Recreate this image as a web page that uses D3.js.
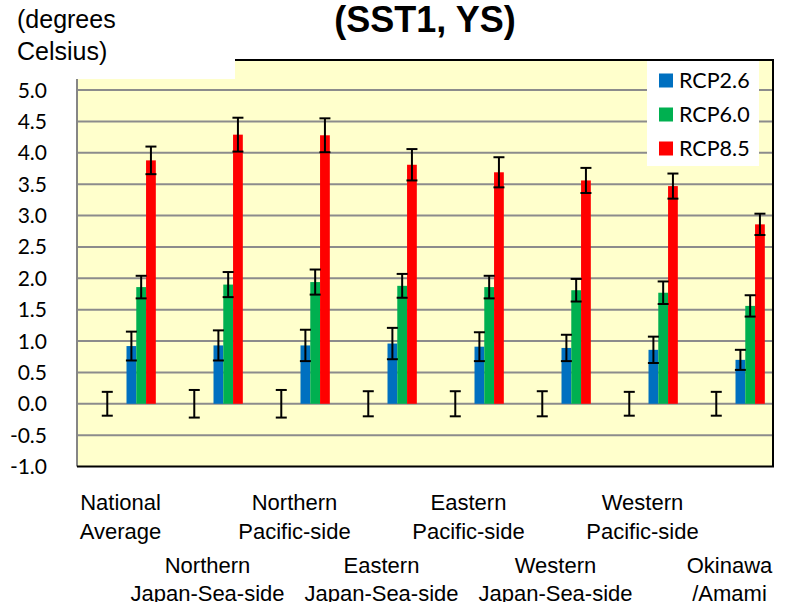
<!DOCTYPE html>
<html>
<head>
<meta charset="utf-8">
<script src="https://cdn.jsdelivr.net/npm/d3@7"></script>
<style>
  html, body { margin: 0; padding: 0; background: #ffffff; }
  svg { display: block; }
</style>
</head>
<body>
<svg id="chart" width="792" height="602"></svg>
<script>
// ---- data ----
const categories = ["National Average", "Northern Japan-Sea-side", "Northern Pacific-side",
  "Eastern Japan-Sea-side", "Eastern Pacific-side", "Western Japan-Sea-side",
  "Western Pacific-side", "Okinawa /Amami"];
const categoryLines = [["National", "Average"], ["Northern", "Japan-Sea-side"], ["Northern", "Pacific-side"],
  ["Eastern", "Japan-Sea-side"], ["Eastern", "Pacific-side"], ["Western", "Japan-Sea-side"],
  ["Western", "Pacific-side"], ["Okinawa", "/Amami"]];
const seriesNames = ["RCP2.6", "RCP6.0", "RCP8.5"];
const presentValues = [0, 0, 0, 0, 0, 0, 0, 0];
const presentErr = [0.19, 0.22, 0.22, 0.20, 0.20, 0.20, 0.19, 0.19];
const rcp26 = [0.92, 0.93, 0.93, 0.96, 0.91, 0.89, 0.86, 0.70];
const rcp26Err = [0.23, 0.24, 0.25, 0.25, 0.23, 0.21, 0.21, 0.16];
const rcp60 = [1.86, 1.90, 1.94, 1.88, 1.86, 1.81, 1.77, 1.56];
const rcp60Err = [0.18, 0.20, 0.20, 0.19, 0.18, 0.18, 0.18, 0.17];
const rcp85 = [3.88, 4.29, 4.28, 3.81, 3.69, 3.56, 3.47, 2.86];
const rcp85Err = [0.22, 0.27, 0.27, 0.25, 0.24, 0.20, 0.20, 0.17];
const yTicks = [-1.0, -0.5, 0.0, 0.5, 1.0, 1.5, 2.0, 2.5, 3.0, 3.5, 4.0, 4.5, 5.0];
const titleText = "(SST1, YS)";
const unitLines = ["(degrees", "Celsius)"];

// ---- layout ----
const colors = {"RCP2.6": "#0070C0", "RCP6.0": "#00B050", "RCP8.5": "#FF0000"};
const plot = {left: 77, right: 773, top: 60, bottom: 466.5};
const svg = d3.select("#chart");

const x = d3.scaleBand().domain(categories).range([plot.left, plot.right]).padding(0);
const bw = x.bandwidth();
const sub = d3.scaleBand().domain(seriesNames).range([bw * 0.569, bw * 0.906]).padding(0);
const presentOffset = bw * 0.348;
const y = d3.scaleLinear().domain([-1, 5.48]).range([plot.bottom, plot.top]);

const seriesData = [
  {name: "RCP2.6", values: rcp26, err: rcp26Err},
  {name: "RCP6.0", values: rcp60, err: rcp60Err},
  {name: "RCP8.5", values: rcp85, err: rcp85Err}
];

// plot background
svg.append("rect")
  .attr("x", plot.left).attr("y", plot.top)
  .attr("width", plot.right - plot.left).attr("height", plot.bottom - plot.top)
  .attr("fill", "#FFFFCC");

// gridlines
svg.append("g").selectAll("line")
  .data(yTicks.filter(t => t > -1))
  .join("line")
  .attr("x1", plot.left).attr("x2", plot.right)
  .attr("y1", d => y(d)).attr("y2", d => y(d))
  .attr("stroke", "#8C8C8C").attr("stroke-width", 2);

// bars
const barG = svg.append("g");
seriesData.forEach(s => {
  barG.selectAll(null)
    .data(categories.map((c, i) => ({c, v: s.values[i], e: s.err[i]})))
    .join("rect")
    .attr("x", d => x(d.c) + sub(s.name))
    .attr("width", sub.bandwidth())
    .attr("y", d => y(d.v))
    .attr("height", d => y(0) - y(d.v))
    .attr("fill", colors[s.name]);
});

// error bars
const capW = 11;
function errorBar(g, cx, v, e) {
  g.append("line").attr("x1", cx).attr("x2", cx).attr("y1", y(v + e)).attr("y2", y(v - e))
    .attr("stroke", "#000").attr("stroke-width", 2);
  [v + e, v - e].forEach(t => {
    g.append("line").attr("x1", cx - capW / 2).attr("x2", cx + capW / 2)
      .attr("y1", y(t)).attr("y2", y(t)).attr("stroke", "#000").attr("stroke-width", 2);
  });
}
const errG = svg.append("g");
categories.forEach((c, i) => {
  errorBar(errG, x(c) + presentOffset, presentValues[i], presentErr[i]);
  seriesData.forEach(s => {
    errorBar(errG, x(c) + sub(s.name) + sub.bandwidth() / 2, s.values[i], s.err[i]);
  });
});

// frame: left axis gray, others black
svg.append("line").attr("x1", plot.left).attr("x2", plot.left).attr("y1", plot.top).attr("y2", plot.bottom)
  .attr("stroke", "#868686").attr("stroke-width", 2);
svg.append("path")
  .attr("d", `M${plot.left},${plot.top}H${plot.right}V${plot.bottom}H${plot.left}`)
  .attr("fill", "none").attr("stroke", "#000").attr("stroke-width", 2);

// y tick labels
svg.append("g").selectAll("text")
  .data(yTicks)
  .join("text")
  .attr("x", 47).attr("y", d => y(d))
  .attr("dy", "0.36em")
  .attr("text-anchor", "end")
  .attr("font-family", "Lato, 'Open Sans', sans-serif")
  .attr("font-size", 21)
  .attr("fill", "#000")
  .text(d => d.toFixed(1));

// unit label box (covers top-left of plot)
svg.append("rect").attr("x", 0).attr("y", 0).attr("width", 235).attr("height", 79).attr("fill", "#fff");
svg.append("g").selectAll("text")
  .data(unitLines)
  .join("text")
  .attr("x", 17).attr("y", (d, i) => 28 + i * 32)
  .attr("font-family", "'Liberation Sans', Arial, sans-serif")
  .attr("font-size", 25)
  .attr("fill", "#000")
  .text(d => d);

// title
svg.append("text")
  .attr("x", (plot.left + plot.right) / 2).attr("y", 32)
  .attr("text-anchor", "middle")
  .attr("font-family", "'Liberation Sans', Arial, sans-serif")
  .attr("font-weight", "bold")
  .attr("font-size", 36)
  .attr("fill", "#000")
  .text(titleText);

// legend
const lg = svg.append("g");
lg.append("rect").attr("x", 647).attr("y", 61).attr("width", 112).attr("height", 105).attr("fill", "#fff");
seriesNames.forEach((n, i) => {
  const cy = 80.5 + i * 34;
  lg.append("rect").attr("x", 659).attr("y", cy - 7).attr("width", 14).attr("height", 14).attr("fill", colors[n]);
  lg.append("text").attr("x", 679).attr("y", cy).attr("dy", "0.36em")
    .attr("font-family", "Lato, 'Open Sans', sans-serif").attr("font-size", 21.5)
    .attr("fill", "#000").text(n);
});

// category labels (staggered in two rows)
const lab = svg.append("g")
  .attr("font-family", "'Liberation Sans', Arial, sans-serif")
  .attr("font-size", 22)
  .attr("fill", "#000")
  .attr("text-anchor", "middle");
categories.forEach((c, i) => {
  const base = i % 2 === 0 ? 510 : 572.5;
  categoryLines[i].forEach((line, j) => {
    lab.append("text")
      .attr("x", x(c) + bw / 2)
      .attr("y", base + j * 28.5)
      .text(line);
  });
});
</script>
</body>
</html>
